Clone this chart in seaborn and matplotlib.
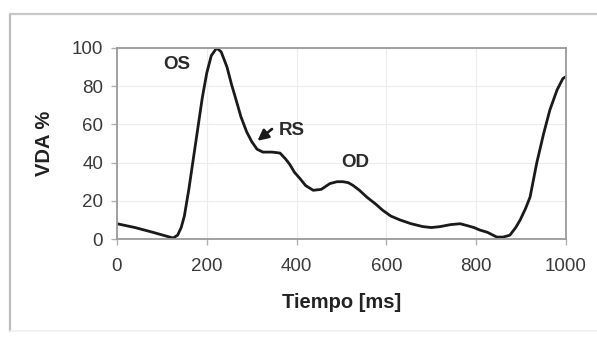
import matplotlib
matplotlib.use("Agg")
import matplotlib.pyplot as plt
import seaborn as sns
import pandas as pd
from matplotlib.lines import Line2D

# Data
time_ms = [0, 40, 80, 110, 125, 135, 143, 150, 160, 170, 180, 190, 200, 210, 222, 232, 245,
           255, 265, 276, 289, 300, 312, 325, 345, 363, 375, 385, 395, 408, 420, 437, 455,
           474, 490, 503, 515, 526, 540, 556, 575, 592, 610, 630, 655, 681, 700, 720, 742,
           764, 780, 795, 808, 825, 846, 860, 875, 888, 898, 910, 920, 935, 950, 964, 980,
           993, 1000]
vda_pct = [8, 6, 3.5, 1.5, 0.5, 2, 6, 12, 26, 42, 58, 74, 87, 96, 100, 98, 90,
           81, 73, 64, 56, 51, 47, 45.5, 45.5, 45, 42, 39, 35, 31.5, 28, 25.5, 26,
           29, 30, 30, 29.5, 28, 25.5, 22, 18.5, 15, 12, 10, 8, 6.5, 6, 6.5, 7.5,
           8, 7, 6, 4.7, 3.5, 1, 1, 2, 6, 10, 16, 22, 40, 55, 67.5, 78,
           84, 85]
x_ticks = [0, 200, 400, 600, 800, 1000]
y_ticks = [0, 20, 40, 60, 80, 100]
x_label = "Tiempo [ms]"
y_label = "VDA %"
ann_labels = ["OS", "RS", "OD"]
ann_x = [134, 390, 530]
ann_y = [91.5, 57, 40]

df = pd.DataFrame({"t": time_ms, "v": vda_pct})

sns.set_theme(style="white")
plt.rcParams['font.family'] = ['Liberation Sans', 'DejaVu Sans']

fig = plt.figure(figsize=(5.97, 3.39), dpi=100)
ax = fig.add_axes([117/597, 1 - 239/339, (566-117)/597, (239-48)/339])

# outer frame
fig.add_artist(Line2D([10/597, 10/597], [1-14/339, 1-331/339], transform=fig.transFigure,
                      color="#bdbdbd", lw=1.6))
fig.add_artist(Line2D([10/597, 1.0], [1-14/339, 1-14/339], transform=fig.transFigure,
                      color="#c8c8c8", lw=1.6))
fig.add_artist(Line2D([10/597, 1.0], [1-331/339, 1-331/339], transform=fig.transFigure,
                      color="#f0f0f0", lw=1.2))

sns.lineplot(data=df, x="t", y="v", ax=ax, color="#1a1a1a", lw=2.0)

ax.set_xlim(0, 1000)
ax.set_ylim(0, 100)
ax.set_xticks(x_ticks)
ax.set_yticks(y_ticks)
ax.grid(True, color="#ececec", lw=0.8)
for s in ax.spines.values():
    s.set_color("#9a9a9a")
    s.set_linewidth(1.3)
ax.tick_params(axis="both", which="both", direction="out", length=4, width=1,
               color="#b0b0b0", labelsize=13.5, labelcolor="#3a3a3a",
               left=True, bottom=True)
ax.tick_params(axis="y", pad=6)
ax.tick_params(axis="x", pad=10)
ax.set_xlabel(x_label, fontsize=14.5, fontweight="bold", color="#222222", labelpad=13)
ax.set_ylabel(y_label, fontsize=14.5, fontweight="bold", color="#222222", labelpad=13)

for txt, tx, ty in zip(ann_labels, ann_x, ann_y):
    ax.text(tx, ty, txt, fontsize=13.5, fontweight="bold", color="#2a2a2a",
            ha="center", va="center")

ax.annotate("", xy=(308, 50.5), xytext=(350, 58.5),
            arrowprops=dict(arrowstyle="-|>", color="#1a1a1a", lw=1.9, mutation_scale=16))

fig.savefig("out.png", dpi=100)
